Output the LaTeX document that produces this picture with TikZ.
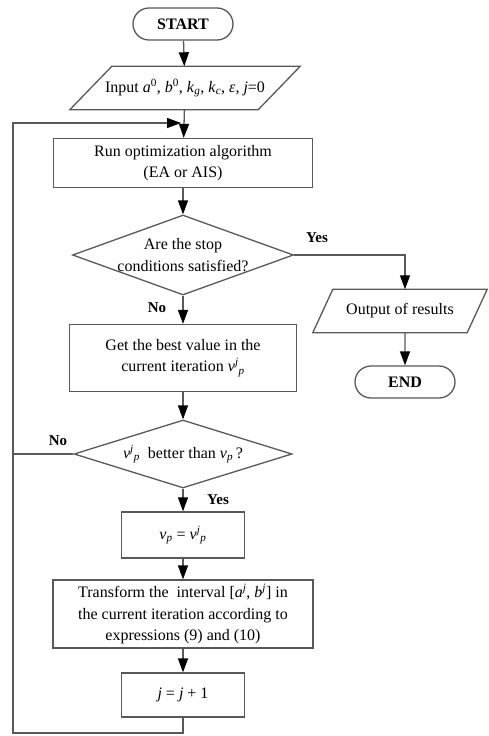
\documentclass[tikz,border=0pt]{standalone}
\usepackage{fontspec}
\setmainfont{Liberation Serif}
\usetikzlibrary{shapes.geometric,shapes.misc,arrows.meta}
\newcommand\iv[1]{\textit{#1}}
\newcommand\vjp{\iv{v}\textsuperscript{\iv{j}}\textsubscript{\iv{p}}}
\begin{document}
\begin{tikzpicture}[x=1pt,y=-1pt,
  every node/.style={font=\fontsize{16}{21.5}\selectfont, text=black},
  lc/.style={draw=black!65, line width=1.3pt},
  arr/.style={lc, -{Triangle[length=14pt,width=10pt,color=black]}},
  box/.style={lc, rectangle, inner sep=0pt, align=center},
  term/.style={lc, rounded rectangle, inner sep=0pt, minimum width=100pt, minimum height=32pt, font=\fontsize{16}{20}\selectfont\bfseries},
  dec/.style={lc, diamond, inner sep=0pt},
  io/.style={rectangle, inner sep=0pt, minimum height=43pt},
  lab/.style={font=\fontsize{15}{18}\selectfont\bfseries}
]
\useasboundingbox (0,0) rectangle (489,736);
\fill[white] (0,0) rectangle (489,736);

\node[term] (start) at (183,24) {START};
\node[io, minimum width=188pt] (in) at (185,88)
  {Input \iv{a}\textsuperscript{0}, \iv{b}\textsuperscript{0}, \iv{k}\textsubscript{\iv{g}}, \iv{k}\textsubscript{\iv{c}}, \iv{ε}, \iv{j}=0};
\draw[lc] ([xshift=21pt]in.north west) -- ([xshift=21pt]in.north east)
  -- ([xshift=-21pt]in.south east) -- ([xshift=-21pt]in.south west) -- cycle;
\coordinate (merge) at (183,123);
\node[box, minimum width=259pt, minimum height=49pt] (run) at (183,163)
  {Run optimization algorithm\\(EA or AIS)};
\node[dec, minimum width=221pt, minimum height=80pt] (d1) at (183,255) {};
\node[align=center] (d1t) at (d1) {Are the stop\\conditions satisfied?};
\node[io, minimum width=154pt] (out) at (400,311) {Output of results};
\draw[lc] ([xshift=10pt]out.north west) -- ([xshift=10pt]out.north east)
  -- ([xshift=-10pt]out.south east) -- ([xshift=-10pt]out.south west) -- cycle;
\node[term] (end) at (405,382) {END};
\node[box, minimum width=227pt, minimum height=67pt] (best) at (183,358)
  {Get the best value in the\\current iteration \vjp};
\node[dec, minimum width=218pt, minimum height=68pt] (d2) at (183,454) {};
\node (d2t) at (d2) {\vjp\ \ better than \iv{v}\textsubscript{\iv{p}}\,?};
\node[box, minimum width=123pt, minimum height=46pt] (upd) at (183,535)
  {\iv{v}\textsubscript{\iv{p}} = \vjp};
\node[box, minimum width=260pt, minimum height=68pt] (tr) at (183,614)
  {Transform the \ interval [\iv{a}\textsuperscript{\iv{j}}, \iv{b}\textsuperscript{\iv{j}}] in\\the current iteration according to\\expressions (9) and (10)};
\node[box, minimum width=123pt, minimum height=44pt] (inc) at (183,695)
  {\iv{j} = \iv{j} + 1};
\coordinate (bl) at (13,733);
\coordinate (tl) at (13,123);

\draw[arr] (start) -- (in);
\draw[arr] (in) -- (run);
\draw[arr] (run) -- (d1);
\draw[arr] (d1.east) -| ([xshift=5pt]out.north);
\draw[arr] ([xshift=5pt]out.south) -- (end);
\draw[arr] (d1) -- (best);
\draw[arr] (best) -- (d2);
\draw[arr] (d2) -- (upd);
\draw[arr] (upd) -- (tr);
\draw[arr] (tr) -- (inc);
\draw[lc] (d2.west) -- (d2.west -| bl);
\draw[arr, shorten >=2pt] (inc.south) |- (bl) -- (tl) -- (merge);

\node[lab] (y1) at (317,238) {Yes};
\node[lab] (n1) at (157,308) {No};
\node[lab] (n2) at (58,441) {No};
\node[lab] (y2) at (218,500) {Yes};
\end{tikzpicture}
\end{document}
